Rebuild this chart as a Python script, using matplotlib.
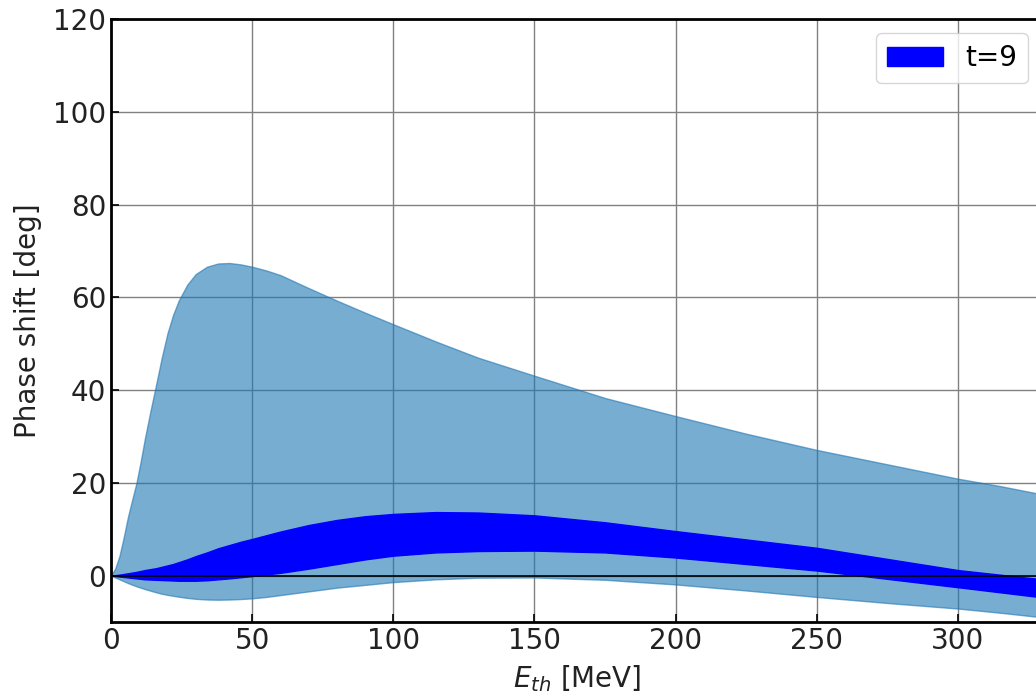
import numpy as np
import matplotlib
matplotlib.use("Agg")
import matplotlib.pyplot as plt

# Energies [MeV] and band edges [deg]
energy = [0, 1.5, 3, 4.5, 6, 7.5, 9, 10.5, 12, 14, 16, 18, 20, 22, 24, 27, 30, 34, 38,
          42, 46, 50, 55, 60, 70, 80, 90, 100, 115, 130, 150, 175, 200, 225, 250, 275,
          300, 315, 330, 340]
wide_upper = [0, 1.5, 4.2, 8.2, 12.6, 16.3, 19.9, 24.5, 29.5, 35.5, 41.2, 47.0, 52.2,
              56.2, 59.3, 62.7, 65.0, 66.6, 67.3, 67.4, 67.1, 66.6, 65.8, 64.8, 62.0,
              59.3, 56.7, 54.2, 50.5, 47.0, 43.1, 38.3, 34.4, 30.6, 27.1, 24.0, 20.9,
              19.3, 17.5, 16.2]
wide_lower = [0, -0.4, -0.8, -1.2, -1.6, -1.95, -2.3, -2.6, -2.9, -3.25, -3.6, -3.9,
              -4.15, -4.35, -4.55, -4.8, -5.0, -5.15, -5.2, -5.15, -5.05, -4.9, -4.6,
              -4.2, -3.4, -2.6, -2.0, -1.4, -0.8, -0.45, -0.4, -0.9, -1.9, -3.2, -4.6,
              -5.9, -7.1, -8.0, -9.0, -9.5]
t9_upper = [0, 0.1, 0.2, 0.35, 0.5, 0.65, 0.8, 1.0, 1.2, 1.4, 1.6, 1.9, 2.2, 2.5, 2.9,
            3.5, 4.2, 5.0, 5.9, 6.6, 7.3, 7.9, 8.7, 9.5, 10.9, 12.0, 12.8, 13.3, 13.7,
            13.6, 13.0, 11.5, 9.6, 7.8, 6.0, 3.6, 1.2, 0.2, -0.8, -1.4]
t9_lower = [0, -0.1, -0.2, -0.3, -0.4, -0.5, -0.6, -0.7, -0.8, -0.85, -0.9, -0.95,
            -1.0, -1.05, -1.1, -1.1, -1.1, -1.0, -0.8, -0.6, -0.35, -0.1, 0.25, 0.6,
            1.5, 2.5, 3.5, 4.3, 5.0, 5.3, 5.4, 5.0, 3.9, 2.5, 1.1, -0.7, -2.5, -3.6,
            -4.7, -5.3]

fs = 20
fig = plt.figure(figsize=(10.36, 6.97), dpi=100)
# the axes run a little past the right edge of the figure, as in the reference
ax = fig.add_axes([0.1071, 0.1076, 0.8993, 0.8651])

ax.set_axisbelow(True)
ax.grid(True, color="gray", linewidth=1.0)
ax.axhline(0, color="k", linewidth=1.2)
ax.fill_between(energy, wide_lower, wide_upper, color="tab:blue", alpha=0.6)
ax.fill_between(energy, t9_lower, t9_upper, color="blue", label="t=9")

ax.set_xlim(0, 330)
ax.set_ylim(-10, 120)
ax.set_xticks(np.arange(0, 301, 50))
ax.set_yticks(np.arange(0, 121, 20))
ax.tick_params(direction="in", labelsize=fs, length=6, width=1.2, colors="k",
               labelcolor="#222222")
for s in ax.spines.values():
    s.set_linewidth(2)

ax.set_xlabel("$E_{th}$ [MeV]", fontsize=fs, color="#222222", labelpad=6)
ax.set_ylabel("Phase shift [deg]", fontsize=fs, color="#222222", labelpad=8)

ax.legend(loc="upper right", bbox_to_anchor=(1028 / 1036, 1 - 33 / 697),
          bbox_transform=fig.transFigure, borderaxespad=0, fontsize=fs,
          handlelength=2.0)

fig.savefig("out.png", dpi=100)
